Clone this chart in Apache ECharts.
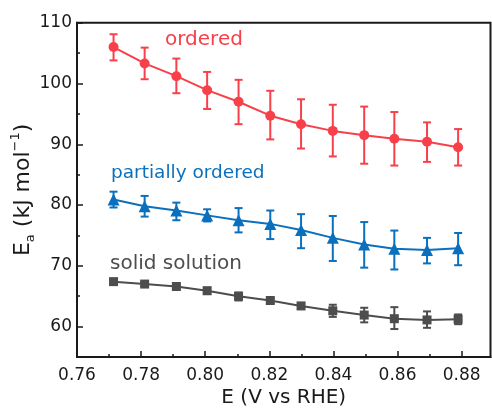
<!DOCTYPE html>
<html>
<head>
<meta charset="utf-8">
<script src="https://cdn.jsdelivr.net/npm/echarts@6/dist/echarts.min.js"></script>
<style>
	html, body { margin: 0; padding: 0; background: #fff; }
	#chart { width: 492px; height: 409px; }
</style>
</head>
<body>
<div id="chart"></div>
<script>
	// potentials (V vs RHE)
	var potential = [0.7714, 0.7811, 0.791, 0.8006, 0.8104, 0.8203, 0.8299, 0.8398, 0.8496, 0.859, 0.8692, 0.8789];

	var orderedMean = [106.0, 103.3, 101.2, 98.9, 97.0, 94.7, 93.3, 92.2, 91.5, 90.9, 90.4, 89.5];
	var orderedLow  = [103.8, 100.7, 98.4, 95.8, 93.3, 90.8, 89.3, 88.0, 86.8, 86.5, 87.1, 86.5];
	var orderedHigh = [108.1, 105.9, 104.1, 101.9, 100.6, 98.8, 97.4, 96.5, 96.2, 95.3, 93.6, 92.5];

	var partialMean = [80.9, 79.8, 79.1, 78.3, 77.5, 76.9, 75.9, 74.6, 73.5, 72.8, 72.6, 72.9];
	var partialLow  = [79.6, 78.1, 77.5, 77.3, 75.5, 74.4, 72.9, 70.8, 69.7, 69.4, 70.4, 70.1];
	var partialHigh = [82.2, 81.5, 80.4, 79.3, 79.5, 79.1, 78.5, 78.2, 77.2, 75.8, 74.6, 75.4];

	var solidMean = [67.4, 67.0, 66.6, 65.9, 65.0, 64.3, 63.4, 62.6, 61.9, 61.3, 61.1, 61.2];
	var solidLow  = [67.1, 66.7, 66.3, 65.4, 64.3, 63.9, 62.9, 61.6, 60.7, 59.6, 59.8, 60.4];
	var solidHigh = [67.7, 67.3, 66.9, 66.4, 65.6, 64.7, 63.9, 63.6, 63.1, 63.2, 62.5, 62.0];

	var xMajor = [0.76, 0.78, 0.80, 0.82, 0.84, 0.86, 0.88];
	var xMinor = [0.77, 0.79, 0.81, 0.83, 0.85, 0.87];
	var yMajor = [60, 70, 80, 90, 100, 110];
	var yMinor = [65, 75, 85, 95, 105];

	var redColor = '#f8404a';
	var blueColor = '#0a70bd';
	var grayColor = '#4d4d4d';
	var fontName = 'DejaVu Sans';

	function $each(arr, fn){ for (var i = 0; i < arr.length; i++) fn(i, arr[i]); }
	function pairs(ys){
		var out = [];
		$each(ys, function(i, v){ out.push([potential[i], v]); });
		return out;
	}
	function bars(lo, hi){
		var out = [];
		$each(lo, function(i, v){ out.push([potential[i], v, hi[i]]); });
		return out;
	}

	function errorBar(color){
		return function(params, api){
			var top = api.coord([api.value(0), api.value(2)]);
			var bot = api.coord([api.value(0), api.value(1)]);
			var w = 4;
			var st = { stroke: color, lineWidth: 2 };
			return {
				type: 'group',
				children: [
					{ type: 'line', shape: { x1: top[0], y1: top[1], x2: bot[0], y2: bot[1] }, style: st },
					{ type: 'line', shape: { x1: top[0] - w, y1: top[1], x2: top[0] + w, y2: top[1] }, style: st },
					{ type: 'line', shape: { x1: bot[0] - w, y1: bot[1], x2: bot[0] + w, y2: bot[1] }, style: st }
				]
			};
		};
	}

	function errSeries(lo, hi, color){
		return {
			type: 'custom',
			renderItem: errorBar(color),
			data: bars(lo, hi),
			encode: { x: 0, y: [1, 2] },
			z: 1,
			silent: true
		};
	}
	function lineSeries(name, ys, color, symbol, size){
		return {
			name: name,
			type: 'line',
			data: pairs(ys),
			symbol: symbol,
			symbolSize: size,
			itemStyle: { color: color },
			lineStyle: { color: color, width: 2 },
			z: 3,
			animation: false
		};
	}

	var axisText = { color: '#1a1a1a', fontFamily: fontName, fontSize: 17 };
	var minX = 0.76, maxX = 0.889, minY = 55, maxY = 110;

	var myEchart = echarts.init(document.getElementById('chart'));
	var option = {
		animation: false,
		grid: {
			left: 77, right: 1.5, top: 22.7, bottom: 52,
			containLabel: false, outerBoundsMode: 'none',
			show: true, borderColor: '#1a1a1a', borderWidth: 2
		},
		xAxis: [{
			type: 'value', min: minX, max: maxX,
			name: 'E (V vs RHE)', nameLocation: 'middle', nameGap: 31, nameMoveOverlap: false,
			nameTextStyle: { color: '#1a1a1a', fontFamily: fontName, fontSize: 20 },
			axisLine: { show: true, lineStyle: { color: '#1a1a1a', width: 2 } },
			axisTick: { show: true, inside: true, length: 6, customValues: xMajor, lineStyle: { color: '#1a1a1a', width: 1.5 } },
			axisLabel: Object.assign({ customValues: xMajor, margin: 10, formatter: function(v){ return v.toFixed(2); } }, axisText),
			splitLine: { show: false }
		}, {
			type: 'value', min: minX, max: maxX, position: 'bottom',
			axisLine: { show: false },
			axisTick: { show: true, inside: true, length: 3, customValues: xMinor, lineStyle: { color: '#1a1a1a', width: 1.5 } },
			axisLabel: { show: false },
			splitLine: { show: false }
		}],
		yAxis: [{
			type: 'value', min: minY, max: maxY,
			name: '{m|E}{sub|a}{m| (kJ mol}{sup|−1}{m|)}', nameLocation: 'middle', nameGap: 40, nameRotate: 90,
			nameMoveOverlap: false,
			nameTextStyle: {
				color: '#1a1a1a', fontFamily: fontName, fontSize: 22,
				rich: {
					m: { fontFamily: fontName, fontSize: 22, lineHeight: 28, color: '#1a1a1a', verticalAlign: 'middle' },
					sub: { fontFamily: fontName, fontSize: 13, lineHeight: 13, color: '#1a1a1a', verticalAlign: 'bottom' },
					sup: { fontFamily: fontName, fontSize: 13, lineHeight: 13, color: '#1a1a1a', verticalAlign: 'top' }
				}
			},
			axisLine: { show: true, lineStyle: { color: '#1a1a1a', width: 2 } },
			axisTick: { show: true, inside: true, length: 6, customValues: yMajor, lineStyle: { color: '#1a1a1a', width: 1.5 } },
			axisLabel: Object.assign({ customValues: yMajor, margin: 5 }, axisText),
			splitLine: { show: false }
		}, {
			type: 'value', min: minY, max: maxY, position: 'left',
			axisLine: { show: false },
			axisTick: { show: true, inside: true, length: 3, customValues: yMinor, lineStyle: { color: '#1a1a1a', width: 1.5 } },
			axisLabel: { show: false },
			splitLine: { show: false }
		}],
		graphic: [
			{ type: 'text', left: 165, top: 30, style: { text: 'ordered', fill: redColor, font: '20px "DejaVu Sans"' } },
			{ type: 'text', left: 111, top: 164, style: { text: 'partially ordered', fill: blueColor, font: '18.5px "DejaVu Sans"' } },
			{ type: 'text', left: 110, top: 254, style: { text: 'solid solution', fill: grayColor, font: '20px "DejaVu Sans"' } }
		],
		series: [
			errSeries(orderedLow, orderedHigh, redColor),
			errSeries(partialLow, partialHigh, blueColor),
			errSeries(solidLow, solidHigh, grayColor),
			lineSeries('ordered', orderedMean, redColor, 'circle', 10),
			lineSeries('partially ordered', partialMean, blueColor, 'triangle', 12),
			lineSeries('solid solution', solidMean, grayColor, 'rect', 9)
		]
	};
	myEchart.setOption(option);
</script>
</body>
</html>
